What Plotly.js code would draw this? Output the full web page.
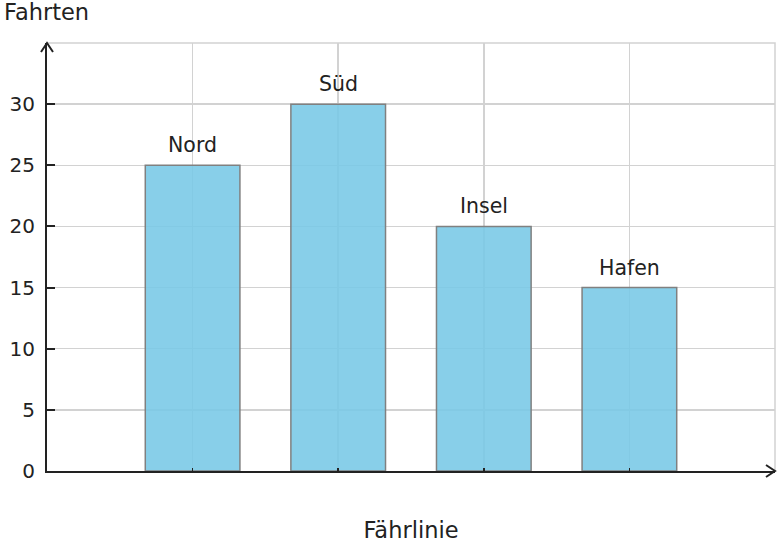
<!DOCTYPE html>
<html>
<head>
<meta charset="utf-8">
<script src="https://cdn.plot.ly/plotly-3.0.1.min.js"></script>
<style>
  html, body { margin: 0; padding: 0; background: #fff; }
  #chart { width: 779px; height: 548px; }
</style>
</head>
<body>
<div id="chart"></div>
<script>
// Fahrten je Fährlinie
const linien = ['Nord', 'Süd', 'Insel', 'Hafen']
const fahrten = [25, 30, 20, 15]
const positionen = linien.map((_, i) => i + 1)
const yTicks = [0, 5, 10, 15, 20, 25, 30]

const font = 'DejaVu Sans, sans-serif'
const ink = '#222222'
const grid = '#d2d2d2'

let trace = {
  type: 'bar',
  x: positionen,
  y: fahrten,
  width: 0.65,
  marker: {
    color: 'rgba(120,200,230,0.88)',
    line: { color: '#808080', width: 1.5 }
  },
  hoverinfo: 'none'
}

// Beschriftung über den Balken
let labels = linien.map((name, i) => ({
  x: positionen[i],
  y: fahrten[i],
  xref: 'x',
  yref: 'y',
  text: name,
  showarrow: false,
  yanchor: 'bottom',
  yshift: 6,
  font: { family: font, size: 20.5, color: ink }
}))

labels.push({
  xref: 'paper', yref: 'paper',
  x: 0, y: 1,
  xanchor: 'left', yanchor: 'bottom',
  xshift: -45, yshift: 16,
  text: 'Fahrten',
  showarrow: false,
  font: { family: font, size: 22.5, color: ink }
})

// Pfeilspitzen an den Achsen
const arrows = [
  {
    type: 'path', xref: 'paper', yref: 'paper',
    xsizemode: 'pixel', ysizemode: 'pixel',
    xanchor: 1, yanchor: 0,
    path: 'M-9,-6 L0,0 L-9,6',
    line: { color: ink, width: 2 }
  },
  {
    type: 'path', xref: 'paper', yref: 'paper',
    xsizemode: 'pixel', ysizemode: 'pixel',
    xanchor: 0, yanchor: 1,
    path: 'M-6,-9 L0,0 L6,-9',
    line: { color: ink, width: 2 }
  },
  // heller Rahmen oben und rechts
  {
    type: 'path', xref: 'paper', yref: 'paper',
    path: 'M0,1 L1,1 L1,0',
    line: { color: grid, width: 1.5 },
    layer: 'below'
  }
]

let layout = {
  width: 779,
  height: 548,
  margin: { l: 47, r: 4, t: 43, b: 77 },
  paper_bgcolor: '#ffffff',
  plot_bgcolor: '#ffffff',
  showlegend: false,
  font: { family: font, color: ink },
  xaxis: {
    range: [0, 5],
    tickvals: positionen,
    showticklabels: false,
    ticks: 'inside',
    ticklen: 3,
    tickwidth: 1.5,
    tickcolor: ink,
    showgrid: true,
    gridcolor: grid,
    gridwidth: 1.5,
    zeroline: false,
    showline: true,
    linecolor: ink,
    linewidth: 2,
    fixedrange: true,
    automargin: false,
    title: { text: 'Fährlinie', standoff: 50, font: { family: font, size: 22.5, color: ink } }
  },
  yaxis: {
    range: [0, 35],
    tickvals: yTicks,
    ticks: 'inside',
    ticklen: 8,
    tickwidth: 2,
    tickcolor: ink,
    tickfont: { family: font, size: 20, color: ink },
    ticklabelstandoff: 6,
    showgrid: true,
    gridcolor: grid,
    gridwidth: 1.5,
    zeroline: false,
    showline: true,
    linecolor: ink,
    linewidth: 2,
    fixedrange: true,
    automargin: false
  },
  annotations: labels,
  shapes: arrows,
  bargap: 0
}

Plotly.newPlot('chart', [trace], layout, { displayModeBar: false, staticPlot: true })
</script>
</body>
</html>
